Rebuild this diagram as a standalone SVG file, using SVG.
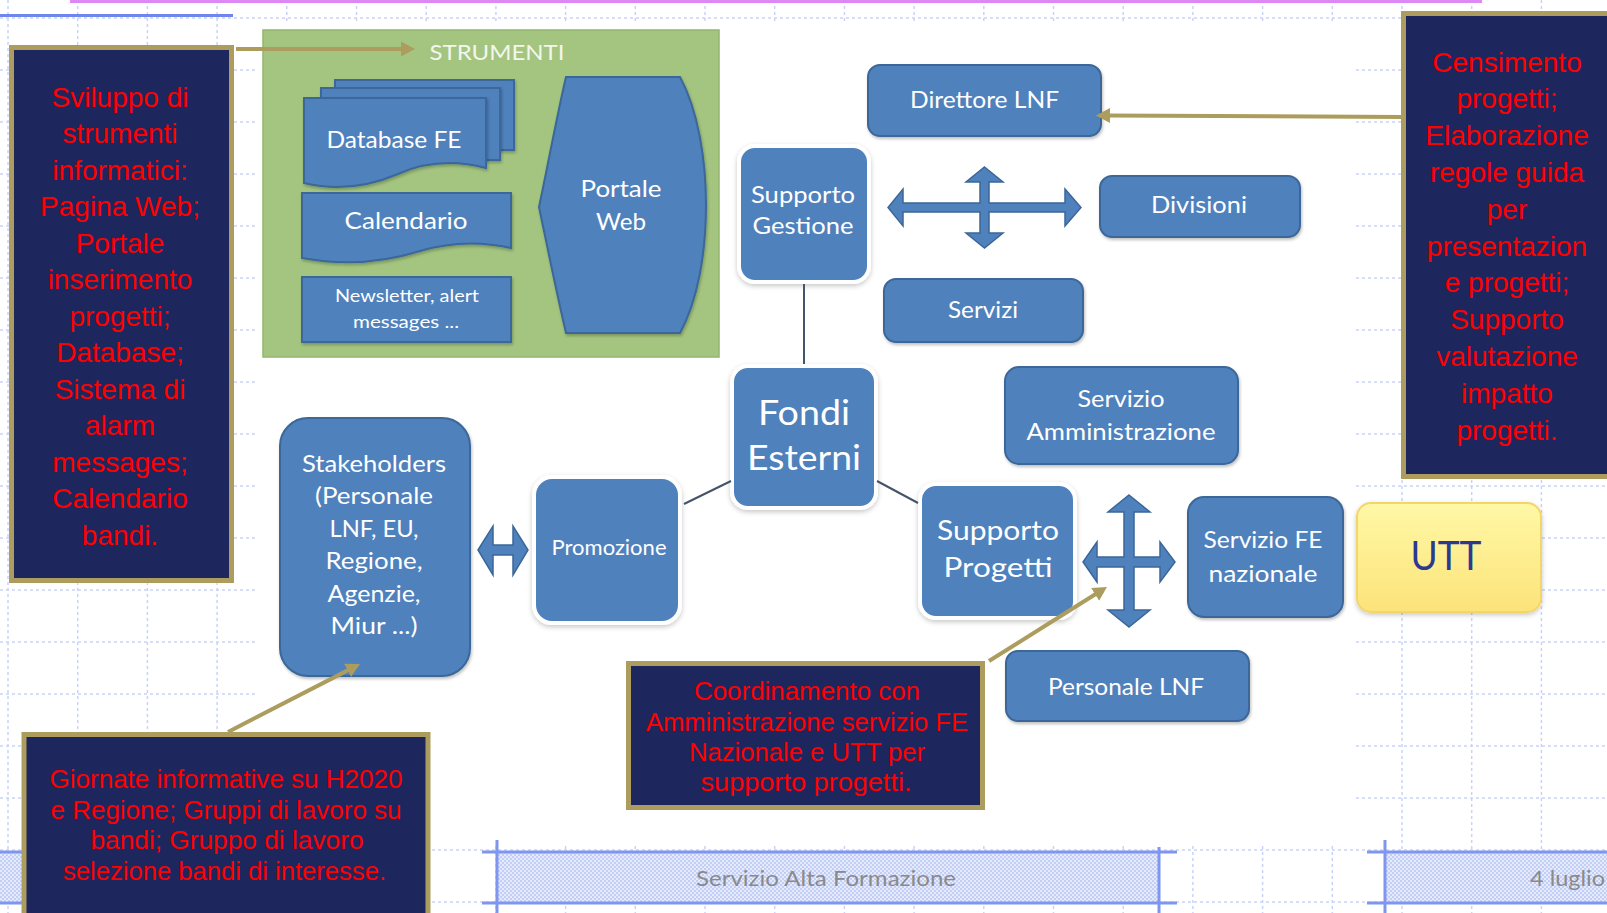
<svg xmlns="http://www.w3.org/2000/svg" width="1607" height="913" viewBox="0 0 1607 913">
<defs>
<style>
.grid{fill:none;stroke:#C9D3F7;stroke-width:1.5;stroke-dasharray:3 3}
.nb{fill:#4F81BD;stroke:#3B6798;stroke-width:2;filter:url(#sh)}
.nw{fill:#4F81BD;stroke:#FFFFFF;stroke-width:4;filter:url(#sh2)}
.nt{font-family:Lato,'Open Sans',sans-serif;fill:#FFFFFF;text-anchor:middle;font-size:23px}
.rb{fill:#1D275E;stroke:#AC9D5E;stroke-width:5}
.rt{font-family:'Liberation Sans',Arial,sans-serif;fill:#FF0000;text-anchor:middle;font-size:28px}
.rs{font-family:'Liberation Sans',Arial,sans-serif;fill:#FF0000;text-anchor:middle;font-size:26px}
.gl{stroke:#AC9D5E;stroke-width:4;fill:none;marker-end:url(#ga)}
.cn{stroke:#44546A;stroke-width:2;fill:none}
.arr{fill:#4F81BD;stroke:#3B6798;stroke-width:1.5}
.ft{font-family:Lato,'Open Sans',sans-serif;fill:#8A8A8A;font-size:22px}
.fl{stroke:#7F95EE;stroke-width:3;fill:none}
</style>
<filter id="sh" x="-10%" y="-10%" width="130%" height="130%">
<feDropShadow dx="1" dy="2" stdDeviation="1.5" flood-color="#000" flood-opacity="0.25"/>
</filter>
<filter id="sh2" x="-10%" y="-10%" width="130%" height="130%">
<feDropShadow dx="0" dy="2" stdDeviation="2.5" flood-color="#000" flood-opacity="0.22"/>
</filter>
<marker id="ga" markerUnits="userSpaceOnUse" markerWidth="15" markerHeight="16" refX="4" refY="7.5" orient="auto">
<path d="M0,0 L14,7.5 L0,15 Z" fill="#AC9D5E"/>
</marker>
<pattern id="hatch" width="4" height="4" patternUnits="userSpaceOnUse">
<rect width="4" height="4" fill="#E6EBFC"/>
<rect width="2" height="2" fill="#C3CEF6"/>
<rect x="2" y="2" width="2" height="2" fill="#C3CEF6"/>
</pattern>
<linearGradient id="yel" x1="0" y1="0" x2="0" y2="1">
<stop offset="0" stop-color="#FFF8A6"/>
<stop offset="1" stop-color="#FCE37A"/>
</linearGradient>
</defs>

<rect width="1607" height="913" fill="#FFFFFF"/>

<g id="background">
<path class="grid" d="M0 18H1607M0 70H1607M0 122H1607M0 174H1607M0 226H1607M0 278H1607M0 330H1607M0 382H1607M0 434H1607M0 486H1607M0 538H1607M0 590H1607M0 642H1607M0 694H1607M0 746H1607M0 798H1607M0 850H1607M0 902H1607"/>
<path class="grid" d="M8 0V913M77.7 0V913M147.4 0V913M217.1 0V913M286.8 0V913M356.5 0V913M426.2 0V913M495.9 0V913M565.6 0V913M635.3 0V913M705 0V913M774.7 0V913M844.4 0V913M914.1 0V913M983.8 0V913M1053.5 0V913M1123.2 0V913M1192.9 0V913M1262.6 0V913M1332.3 0V913M1402 0V913M1471.7 0V913M1541.4 0V913"/>
<rect x="257" y="24" width="1098" height="822" fill="#FFFFFF"/>
<line x1="70" y1="1.5" x2="1482" y2="1.5" stroke="#DD88F5" stroke-width="3"/>
<line x1="0" y1="15.5" x2="233" y2="15.5" stroke="#6F86EE" stroke-width="3"/>
</g>

<g id="footer">
<rect x="0" y="852" width="430" height="51" fill="url(#hatch)"/>
<path class="fl" d="M0 852H430M0 903H430"/>
<rect x="497" y="852" width="662" height="51" fill="url(#hatch)"/>
<path class="fl" d="M482 852H1177M482 903H1177M497 840V913M1159 847V913"/>
<rect x="1385" y="852" width="222" height="51" fill="url(#hatch)"/>
<path class="fl" d="M1367 852H1607M1367 903H1607M1385 840V913"/>
<text class="ft" x="826" y="886" text-anchor="middle" textLength="260" lengthAdjust="spacingAndGlyphs">Servizio Alta Formazione</text>
<text class="ft" x="1530" y="886" textLength="75" lengthAdjust="spacingAndGlyphs">4 luglio</text>
</g>

<g id="strumenti">
<rect x="263" y="30" width="456" height="327" fill="#A4C580" stroke="#93B56E" stroke-width="1.5"/>
<text x="497" y="60" font-family="Lato,'Open Sans',sans-serif" font-size="22" fill="#F2F6EC" text-anchor="middle" textLength="135" lengthAdjust="spacingAndGlyphs">STRUMENTI</text>
</g>

<g id="databaseFE">
<rect class="nb" x="335" y="80" width="179" height="70"/>
<rect class="nb" x="321" y="88" width="179" height="72"/>
<path class="nb" d="M304,98 H486 V168 C455,160 425,162 398,174 C365,188 333,190 304,183 Z"/>
<text class="nt" x="394" y="148" textLength="135" lengthAdjust="spacingAndGlyphs">Database FE</text>
</g>

<g id="calendario">
<path class="nb" d="M302,193 H511 V248 C480,241 450,242 420,251 C385,262 345,266 302,258 Z"/>
<text class="nt" x="406" y="229" textLength="123" lengthAdjust="spacingAndGlyphs">Calendario</text>
</g>

<g id="newsletter">
<rect class="nb" x="302" y="277" width="209" height="65"/>
<text class="nt" x="407" y="302" style="font-size:18px" textLength="144" lengthAdjust="spacingAndGlyphs">Newsletter, alert</text>
<text class="nt" x="406" y="328" style="font-size:18px" textLength="106" lengthAdjust="spacingAndGlyphs">messages ...</text>
</g>

<g id="portaleWeb">
<path class="nb" d="M566,77 H680 C698,110 706,160 706,205 C706,252 698,300 680,333 H566 C556,290 548,250 539,207 C548,165 556,120 566,77 Z"/>
<text class="nt" x="621" y="197" textLength="81" lengthAdjust="spacingAndGlyphs">Portale</text>
<text class="nt" x="621" y="230" textLength="50" lengthAdjust="spacingAndGlyphs">Web</text>
</g>

<g id="direttore">
<rect class="nb" x="868" y="65" width="233" height="71" rx="12"/>
<text class="nt" x="984.5" y="108" textLength="149" lengthAdjust="spacingAndGlyphs">Direttore LNF</text>
</g>

<g id="supportoGestione">
<rect class="nw" x="739" y="146" width="130" height="136" rx="16"/>
<text class="nt" x="803" y="203" textLength="104" lengthAdjust="spacingAndGlyphs">Supporto</text>
<text class="nt" x="803" y="234" textLength="101" lengthAdjust="spacingAndGlyphs">Gestione</text>
</g>

<g id="divisioni">
<rect class="nb" x="1100" y="176" width="200" height="61" rx="12"/>
<text class="nt" x="1199" y="213" textLength="96" lengthAdjust="spacingAndGlyphs">Divisioni</text>
</g>

<g id="servizi">
<rect class="nb" x="884" y="279" width="199" height="63" rx="12"/>
<text class="nt" x="983" y="318" textLength="70" lengthAdjust="spacingAndGlyphs">Servizi</text>
</g>

<g id="fondiEsterni">
<rect class="nw" x="732" y="366" width="144" height="142" rx="16"/>
<text class="nt" x="804" y="425" style="font-size:35px" textLength="92" lengthAdjust="spacingAndGlyphs">Fondi</text>
<text class="nt" x="804" y="470" style="font-size:35px" textLength="114" lengthAdjust="spacingAndGlyphs">Esterni</text>
</g>

<g id="servizioAmministrazione">
<rect class="nb" x="1005" y="367" width="233" height="97" rx="14"/>
<text class="nt" x="1121" y="407" textLength="87" lengthAdjust="spacingAndGlyphs">Servizio</text>
<text class="nt" x="1121" y="440" textLength="189" lengthAdjust="spacingAndGlyphs">Amministrazione</text>
</g>

<g id="stakeholders">
<rect class="nb" x="280" y="418" width="190" height="258" rx="28"/>
<text class="nt" x="374" y="472" textLength="144" lengthAdjust="spacingAndGlyphs">Stakeholders</text>
<text class="nt" x="374" y="504" textLength="118" lengthAdjust="spacingAndGlyphs">(Personale</text>
<text class="nt" x="374" y="537" textLength="89" lengthAdjust="spacingAndGlyphs">LNF, EU,</text>
<text class="nt" x="374" y="569" textLength="97" lengthAdjust="spacingAndGlyphs">Regione,</text>
<text class="nt" x="374" y="602" textLength="93" lengthAdjust="spacingAndGlyphs">Agenzie,</text>
<text class="nt" x="374" y="634" textLength="87" lengthAdjust="spacingAndGlyphs">Miur ...)</text>
</g>

<g id="promozione">
<rect class="nw" x="534" y="477" width="146" height="146" rx="18"/>
<text class="nt" x="609" y="555" style="font-size:21px" textLength="115" lengthAdjust="spacingAndGlyphs">Promozione</text>
</g>

<g id="supportoProgetti">
<rect class="nw" x="920" y="484" width="155" height="134" rx="16"/>
<text class="nt" x="998" y="540" style="font-size:27px" textLength="122" lengthAdjust="spacingAndGlyphs">Supporto</text>
<text class="nt" x="998" y="577" style="font-size:27px" textLength="109" lengthAdjust="spacingAndGlyphs">Progetti</text>
</g>

<g id="servizioFE">
<rect class="nb" x="1188" y="497" width="155" height="120" rx="16"/>
<text class="nt" x="1263" y="548" textLength="119" lengthAdjust="spacingAndGlyphs">Servizio FE</text>
<text class="nt" x="1263" y="582" textLength="109" lengthAdjust="spacingAndGlyphs">nazionale</text>
</g>

<g id="utt">
<rect x="1357" y="503" width="184" height="109" rx="14" fill="url(#yel)" stroke="#F2D66A" stroke-width="2" filter="url(#sh2)"/>
<text x="1446" y="570" font-family="Lato,'Open Sans',sans-serif" font-size="40" fill="#2B3990" text-anchor="middle" textLength="71" lengthAdjust="spacingAndGlyphs">UTT</text>
</g>

<g id="personaleLNF">
<rect class="nb" x="1006" y="651" width="243" height="70" rx="12"/>
<text class="nt" x="1126" y="695" textLength="156" lengthAdjust="spacingAndGlyphs">Personale LNF</text>
</g>

<g id="noteSviluppo">
<rect class="rb" x="11.5" y="47.5" width="220" height="533"/>
<text class="rt" x="120" y="106.5">Sviluppo di</text>
<text class="rt" x="120" y="143">strumenti</text>
<text class="rt" x="120" y="179.5">informatici:</text>
<text class="rt" x="120" y="216">Pagina Web;</text>
<text class="rt" x="120" y="252.5">Portale</text>
<text class="rt" x="120" y="289">inserimento</text>
<text class="rt" x="120" y="325.5">progetti;</text>
<text class="rt" x="120" y="362">Database;</text>
<text class="rt" x="120" y="398.5">Sistema di</text>
<text class="rt" x="120" y="435">alarm</text>
<text class="rt" x="120" y="471.5">messages;</text>
<text class="rt" x="120" y="508">Calendario</text>
<text class="rt" x="120" y="544.5">bandi.</text>
</g>

<g id="noteCensimento">
<rect class="rb" x="1403.5" y="13.5" width="215" height="463"/>
<text class="rt" x="1507" y="71.5">Censimento</text>
<text class="rt" x="1507" y="108.3">progetti;</text>
<text class="rt" x="1507" y="145.1">Elaborazione</text>
<text class="rt" x="1507" y="181.9">regole guida</text>
<text class="rt" x="1507" y="218.7">per</text>
<text class="rt" x="1507" y="255.5">presentazion</text>
<text class="rt" x="1507" y="292.3">e progetti;</text>
<text class="rt" x="1507" y="329.1">Supporto</text>
<text class="rt" x="1507" y="365.9">valutazione</text>
<text class="rt" x="1507" y="402.7">impatto</text>
<text class="rt" x="1507" y="439.5">progetti.</text>
</g>

<g id="noteCoordinamento">
<rect class="rb" x="628.5" y="663.5" width="354" height="144"/>
<text class="rs" x="807" y="700" textLength="226" lengthAdjust="spacingAndGlyphs">Coordinamento con</text>
<text class="rs" x="807" y="731" textLength="322" lengthAdjust="spacingAndGlyphs">Amministrazione servizio FE</text>
<text class="rs" x="807" y="761" textLength="236" lengthAdjust="spacingAndGlyphs">Nazionale e UTT per</text>
<text class="rs" x="806" y="791" textLength="211" lengthAdjust="spacingAndGlyphs">supporto progetti.</text>
</g>

<g id="noteGiornate">
<rect class="rb" x="24" y="734.5" width="404" height="200"/>
<text class="rs" x="226" y="788" textLength="353" lengthAdjust="spacingAndGlyphs">Giornate informative su H2020</text>
<text class="rs" x="226" y="819" textLength="351" lengthAdjust="spacingAndGlyphs">e Regione; Gruppi di lavoro su</text>
<text class="rs" x="227" y="849" textLength="273" lengthAdjust="spacingAndGlyphs">bandi; Gruppo di lavoro</text>
<text class="rs" x="224.5" y="880" textLength="323" lengthAdjust="spacingAndGlyphs">selezione bandi di interesse.</text>
</g>

<g id="connectors">
<line class="cn" x1="804" y1="284" x2="804" y2="364"/>
<line class="cn" x1="684" y1="504" x2="731" y2="481"/>
<line class="cn" x1="877" y1="481" x2="918" y2="503"/>
<polygon class="arr" points="984.5,167 1003,182 989,182 989,203 1065,203 1065,189 1081,207.5 1065,226 1065,212 989,212 989,233 1003,233 984.5,248 966,233 980,233 980,212 903,212 903,226 888,207.5 903,189 903,203 980,203 980,182 966,182"/>
<polygon class="arr" points="1129,495 1150,512 1134,512 1134,557 1160,557 1160,542 1175,562 1160,582 1160,567 1134,567 1134,610 1150,610 1129,627 1108,610 1124,610 1124,567 1097,567 1097,582 1083,562 1097,542 1097,557 1124,557 1124,512 1108,512"/>
<polygon class="arr" points="478,550 493,526 493,545 513,545 513,526 528,550 513,575 513,555 493,555 493,575"/>
<line class="gl" x1="236" y1="49" x2="405" y2="49"/>
<line class="gl" x1="1403" y1="117" x2="1106" y2="115.5"/>
<line class="gl" x1="989" y1="661" x2="1098.5" y2="592.3"/>
<line class="gl" x1="228" y1="732" x2="351.1" y2="668.6"/>
</g>
</svg>
